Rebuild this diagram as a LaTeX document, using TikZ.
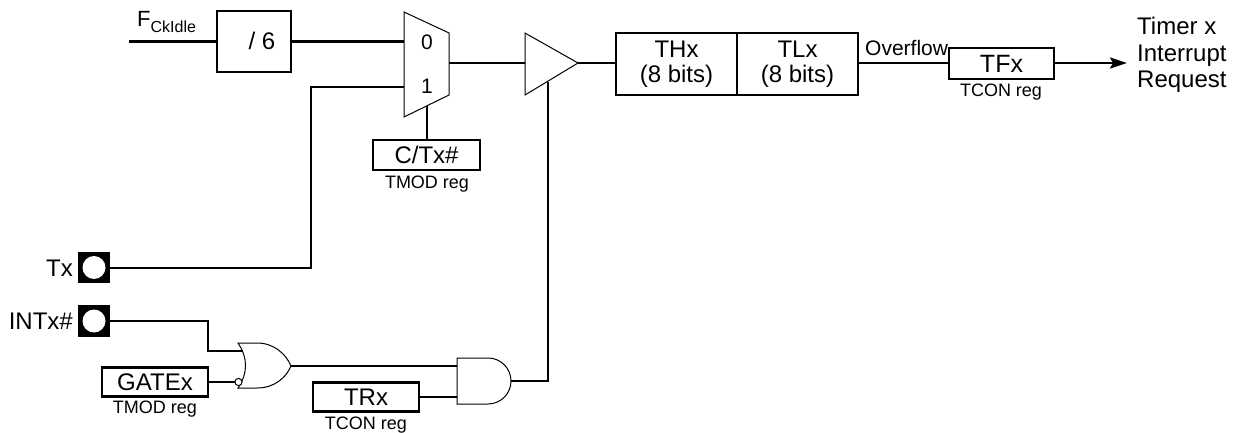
\documentclass[tikz,border=0pt]{standalone}
\usepackage{fontspec}
\setmainfont{Liberation Sans}
\usetikzlibrary{arrows.meta}
\newcommand\mybig{\fontsize{24}{25.5}\selectfont}
\newcommand\mymid{\fontsize{21}{23}\selectfont}
\newcommand\mysmall{\fontsize{18}{20}\selectfont}
\begin{document}
\begin{tikzpicture}[x=1pt,y=-1pt,
  wire/.style={line width=2.2pt},
  thinline/.style={line width=1pt},
  regbox/.style={draw,line width=2.2pt,inner sep=0pt,font=\mybig,align=center},
  lbl/.style={inner sep=0pt,font=\mybig},
  midlbl/.style={inner sep=0pt,font=\mymid},
  sml/.style={inner sep=0pt,font=\mysmall}]
\useasboundingbox (0,0) rectangle (1239,433);

% ---- top row ----
\coordinate (fin) at (129,41.5);
\node[inner sep=0pt,anchor=base west,font=\fontsize{22}{24}\selectfont] (flbl) at (137,27) {F\raisebox{-6pt}{\fontsize{16}{16}\selectfont CkIdle}};
\node[regbox,minimum width=74pt,minimum height=61pt] (div) at (254,41.5) {};
\node[lbl] (divtxt) at (262,41) {/ 6};
\draw[wire] (fin) -- (div.west);

% multiplexer
\coordinate (muxtl) at (404,12);
\coordinate (muxtr) at (449,33);
\coordinate (muxbr) at (449,95);
\coordinate (muxbl) at (404,117);
\draw[thinline] (muxtl) -- (muxtr) -- (muxbr) -- (muxbl) -- cycle;
\coordinate (mux0) at (404,41.5);
\coordinate (mux1) at (404,87);
\coordinate (muxsel) at (427,106);
\coordinate (muxout) at (449,63);
\node[midlbl] (zero) at (427,42) {0};
\node[midlbl] (one) at (427,86) {1};
\draw[wire] (div.east) -- (mux0);

\node[regbox,minimum width=107pt,minimum height=30pt] (ctx) at (426.5,155) {C/Tx\#};
\node[sml,anchor=base] (ctxreg) at (427,188) {TMOD reg};
\draw[wire] (muxsel) -- (ctx.north -| muxsel);

% gate (buffer)
\coordinate (buft) at (525,33);
\coordinate (buftip) at (578,63);
\coordinate (bufb) at (525,95);
\draw[thinline] (buft) -- (buftip) -- (bufb) -- cycle;
\coordinate (bufin) at (525,63);
\coordinate (bufen) at (548,82);
\draw[wire] (muxout) -- (bufin);

% counter registers
\node[regbox,minimum width=121pt,minimum height=62pt] (thx) at (676.5,64) {THx\\(8 bits)};
\node[regbox,minimum width=121pt,minimum height=62pt] (tlx) at (797.5,64) {TLx\\(8 bits)};
\draw[wire] (buftip) -- (thx.west |- buftip);

\node[regbox,minimum width=105pt,minimum height=31pt,font=\fontsize{25}{27}\selectfont] (tfx) at (1001.5,63.5) {TFx};
\node[sml,anchor=base] (tfxreg) at (1001,97) {TCON reg};
\node[inner sep=0pt,anchor=base west,font=\fontsize{21}{23}\selectfont] (ovf) at (865,56) {Overflow};
\draw[wire] (tlx.east |- 0,63) -- (tfx.west |- 0,63);

\node[lbl,anchor=base west] (irq1) at (1137,35) {Timer x};
\node[lbl,anchor=base west] (irq2) at (1137,62) {Interrupt};
\node[lbl,anchor=base west] (irq3) at (1137,88) {Request};
\coordinate (irqin) at (1127,63);
\draw[wire,-{Stealth[length=17pt,width=11pt,inset=3pt]}] (tfx.east |- 0,63) -- (irqin);

% ---- pins ----
\node[fill=black,minimum width=32pt,minimum height=31pt,inner sep=0pt] (txpad) at (94,267.5) {};
\fill[white] (txpad.center) circle[radius=11.5pt];
\node[lbl,anchor=east] (txlbl) at (73,268) {Tx};
\node[fill=black,minimum width=32pt,minimum height=32pt,inner sep=0pt] (intpad) at (94,321) {};
\fill[white] (intpad.center) circle[radius=11.5pt];
\node[lbl,anchor=east] (intlbl) at (73,321) {INTx\#};

\coordinate (txcorner) at (311,268);
\coordinate (mux1corner) at (311,87);
\draw[wire] (txpad.east |- txcorner) -- (txcorner) -- (mux1corner) -- (mux1);

% ---- OR gate ----
\coordinate (orbt) at (238,343);
\coordinate (orbb) at (238,388);
\coordinate (ortip) at (291,366);
\draw[thinline] (orbt) .. controls (248,358) and (248,373) .. (orbb)
  -- (257,388) .. controls (274,388) and (286,378) .. (ortip)
  .. controls (286,354) and (274,343) .. (257,343) -- cycle;
\coordinate (orin1) at (243,351);
\coordinate (bubble) at (238.5,382);
\draw[thinline,fill=white] (bubble) circle[radius=3.6pt];
\coordinate (orin2) at (235,382);
\coordinate (intcorner1) at (208,321);
\coordinate (intcorner2) at (208,351);
\draw[wire] (intpad.east |- intcorner1) -- (intcorner1) -- (intcorner2) -- (orin1);

\node[regbox,minimum width=106pt,minimum height=29pt] (gatex) at (155,382) {GATEx};
\node[sml,anchor=base] (gatereg) at (155,413) {TMOD reg};
\draw[wire] (gatex.east) -- (gatex.east -| orin2);

% ---- AND gate ----
\coordinate (andtl) at (457,358);
\coordinate (andbl) at (457,404);
\coordinate (andtip) at (511,381);
\draw[thinline] (andtl) -- (488,358) .. controls (500.7,358) and (511,368.3) .. (andtip)
  .. controls (511,393.7) and (500.7,404) .. (488,404) -- (andbl) -- cycle;
\coordinate (andin1) at (457,367);
\coordinate (andin2) at (457,397);
\draw[wire] (ortip) -- (ortip -| andin1);

\node[regbox,minimum width=106pt,minimum height=29pt] (trx) at (366,397) {TRx};
\node[sml,anchor=base] (trxreg) at (366,429) {TCON reg};
\draw[wire] (trx.east) -- (trx.east -| andin2);

\coordinate (encorner) at (548,381);
\draw[wire] (andtip) -- (encorner) -- (bufen);
\end{tikzpicture}
\end{document}
